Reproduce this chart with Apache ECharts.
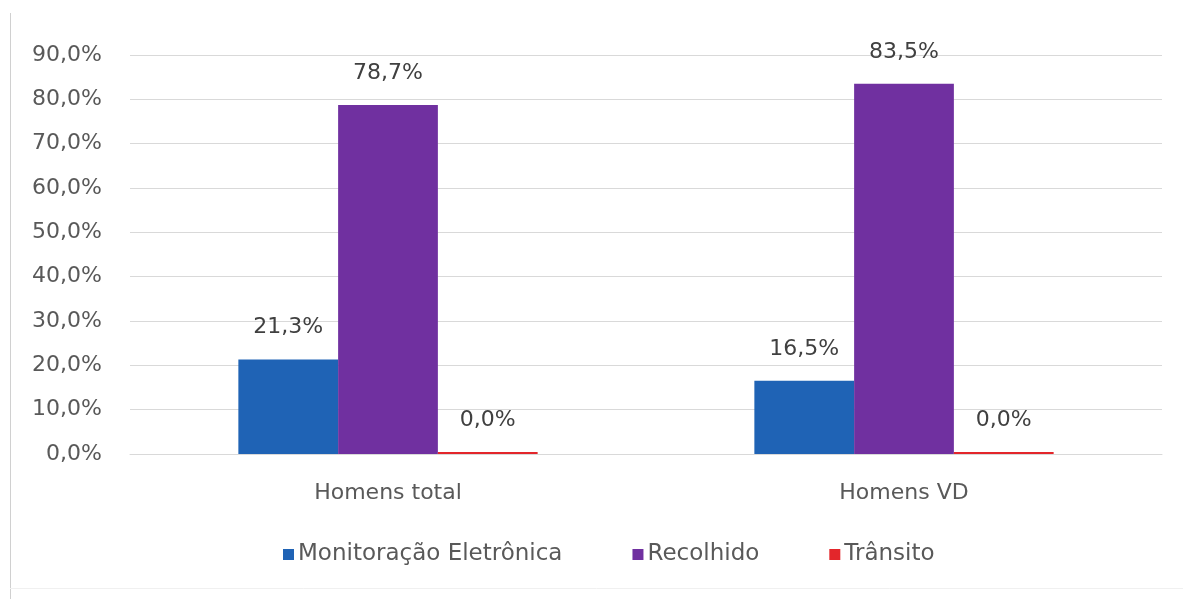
<!DOCTYPE html>
<html>
<head>
<meta charset="utf-8">
<script src="https://cdn.jsdelivr.net/npm/echarts@6/dist/echarts.min.js"></script>
<style>
html,body{margin:0;padding:0;background:#fff;}
#chart{width:1183px;height:599px;}
</style>
</head>
<body>
<div id="chart"></div>
<script>
const categories = ['Homens total', 'Homens VD'];
const seriesNames = ['Monitoração Eletrônica', 'Recolhido', 'Trânsito'];
const monitoracao = [21.3, 16.5];
const recolhido = [78.7, 83.5];
const transito = [0.0, 0.0];
const yTicks = [0, 10, 20, 30, 40, 50, 60, 70, 80, 90];

const colors = ['#1F63B5', '#7030A0', '#E3262B'];
const fontFamily = '"DejaVu Sans", sans-serif';
const fmt = v => v.toFixed(1).replace('.', ',') + '%';

const chart = echarts.init(document.getElementById('chart'));
const mkSeries = (name, data, i) => ({
  name: name,
  type: 'bar',
  data: data,
  barGap: '0%',
  barCategoryGap: '42%',
  barMinHeight: i === 2 ? 2 : 0,
  itemStyle: { color: colors[i] },
  label: {
    show: true,
    position: 'top',
    distance: 21,
    color: '#404040',
    fontSize: 22,
    fontFamily: fontFamily,
    formatter: p => fmt(p.value)
  }
});

chart.setOption({
  animation: false,
  backgroundColor: '#fff',
  grid: { left: 130, right: 21, top: 55, bottom: 145, containLabel: false },
  xAxis: {
    type: 'category',
    data: categories,
    axisLine: { show: true, lineStyle: { color: '#d9d9d9', width: 1 } },
    axisTick: { show: false },
    axisLabel: { color: '#595959', fontSize: 22, fontFamily: fontFamily, margin: 28 }
  },
  yAxis: {
    type: 'value',
    min: yTicks[0],
    max: yTicks[yTicks.length - 1],
    interval: 10,
    axisLine: { show: false },
    axisTick: { show: false },
    splitLine: { lineStyle: { color: '#d9d9d9', width: 1 } },
    axisLabel: { color: '#595959', fontSize: 22, fontFamily: fontFamily, margin: 28, formatter: v => fmt(v) }
  },
  legend: {
    data: seriesNames,
    left: 278,
    top: 538,
    icon: 'rect',
    itemWidth: 11,
    itemHeight: 11,
    itemGap: 70,
    textStyle: { color: '#595959', fontSize: 23, fontFamily: fontFamily, padding: [0, 0, 0, -1] }
  },
  graphic: [
    { type: 'line', shape: { x1: 10.5, y1: 13, x2: 10.5, y2: 599 }, style: { stroke: '#d0d0d0', lineWidth: 1 } },
    { type: 'line', shape: { x1: 10, y1: 588.5, x2: 1183, y2: 588.5 }, style: { stroke: '#f0f0f0', lineWidth: 1 } }
  ],
  series: [
    mkSeries(seriesNames[0], monitoracao, 0),
    mkSeries(seriesNames[1], recolhido, 1),
    mkSeries(seriesNames[2], transito, 2)
  ]
});
</script>
</body>
</html>
